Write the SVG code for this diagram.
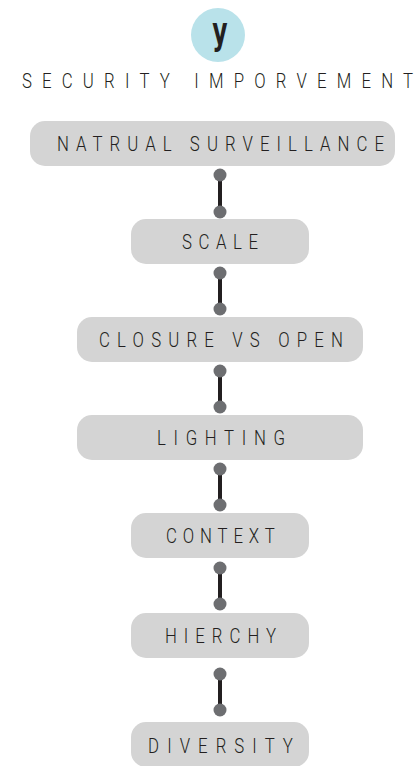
<svg xmlns="http://www.w3.org/2000/svg" width="420" height="766" viewBox="0 0 420 766">
<style>
.box{fill:#d4d4d4}
.lbl{font-family:Roboto,"DejaVu Sans Condensed",sans-serif;font-weight:300;font-size:21px;fill:#231f20;text-anchor:middle}
.dot{fill:#6d6e71}
.bar{stroke:#231f20;stroke-width:4}
</style>
<rect width="420" height="766" fill="#ffffff"/>
<g id="header">
<circle cx="218" cy="35" r="27" fill="#b9e2ea"/>
<text transform="translate(220,44) scale(0.62,1)" x="0" y="0" text-anchor="middle" font-family="'DejaVu Sans',sans-serif" font-weight="bold" font-size="38" fill="#231f20">y</text>
<text class="lbl" transform="translate(217.5,88) scale(0.8,1)" x="0" y="0" textLength="489" lengthAdjust="spacing">SECURITY IMPORVEMENT</text>
</g>
<g id="connectors">
<line class="bar" x1="220" y1="175" x2="220" y2="212"/><circle class="dot" cx="220" cy="175" r="6.5"/><circle class="dot" cx="220" cy="212" r="6.5"/>
<line class="bar" x1="220" y1="273" x2="220" y2="309"/><circle class="dot" cx="220" cy="273" r="6.5"/><circle class="dot" cx="220" cy="309" r="6.5"/>
<line class="bar" x1="220" y1="371" x2="220" y2="407"/><circle class="dot" cx="220" cy="371" r="6.5"/><circle class="dot" cx="220" cy="407" r="6.5"/>
<line class="bar" x1="220" y1="469" x2="220" y2="505"/><circle class="dot" cx="220" cy="469" r="6.5"/><circle class="dot" cx="220" cy="505" r="6.5"/>
<line class="bar" x1="220" y1="568" x2="220" y2="604"/><circle class="dot" cx="220" cy="568" r="6.5"/><circle class="dot" cx="220" cy="604" r="6.5"/>
<line class="bar" x1="220" y1="674" x2="220" y2="710"/><circle class="dot" cx="220" cy="674" r="6.5"/><circle class="dot" cx="220" cy="710" r="6.5"/>
</g>
<g id="n1"><rect class="box" x="30" y="121" width="365" height="45" rx="15"/><text class="lbl" transform="translate(220.5,151) scale(0.8,1)" x="0" y="0" textLength="409" lengthAdjust="spacing">NATRUAL SURVEILLANCE</text></g>
<g id="n2"><rect class="box" x="131" y="219" width="178" height="45" rx="15"/><text class="lbl" transform="translate(220,249) scale(0.8,1)" x="0" y="0" textLength="95" lengthAdjust="spacing">SCALE</text></g>
<g id="n3"><rect class="box" x="77" y="317" width="286" height="45" rx="15"/><text class="lbl" transform="translate(221,347) scale(0.8,1)" x="0" y="0" textLength="305" lengthAdjust="spacing">CLOSURE VS OPEN</text></g>
<g id="n4"><rect class="box" x="77" y="415" width="286" height="45" rx="15"/><text class="lbl" transform="translate(221,445) scale(0.8,1)" x="0" y="0" textLength="160" lengthAdjust="spacing">LIGHTING</text></g>
<g id="n5"><rect class="box" x="131" y="513" width="178" height="45" rx="15"/><text class="lbl" transform="translate(220.5,543) scale(0.8,1)" x="0" y="0" textLength="136" lengthAdjust="spacing">CONTEXT</text></g>
<g id="n6"><rect class="box" x="131" y="613" width="178" height="45" rx="15"/><text class="lbl" transform="translate(220.5,643) scale(0.8,1)" x="0" y="0" textLength="139" lengthAdjust="spacing">HIERCHY</text></g>
<g id="n7"><rect class="box" x="131" y="722" width="178" height="45" rx="15"/><text class="lbl" transform="translate(220.5,753) scale(0.8,1)" x="0" y="0" textLength="181" lengthAdjust="spacing">DIVERSITY</text></g>
</svg>
